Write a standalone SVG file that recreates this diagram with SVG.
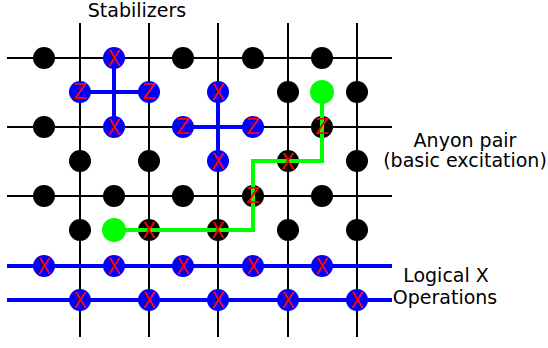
<svg xmlns="http://www.w3.org/2000/svg" width="548" height="348" viewBox="0 0 548 348">
<style>
.grid{stroke:#000;stroke-width:2;fill:none}
.stab{stroke:#0000ff;stroke-width:4;fill:none}
.logic{stroke:#0000ff;stroke-width:4;fill:none}
.path{stroke:#00ff00;stroke-width:4;fill:none}
.q{fill:#000}
.b{fill:#0000ff}
.g{fill:#00ff00}
.op{fill:#ff0000;font-family:"DejaVu Sans Condensed","DejaVu Sans",sans-serif;font-stretch:condensed;font-size:22px;text-anchor:middle;dominant-baseline:central}
.lbl{fill:#000;font-family:"DejaVu Sans",sans-serif;font-size:19px;text-anchor:middle}
</style>
<rect width="548" height="348" fill="#fff"/>
<g id="lattice">
<path class="grid" d="M7,58H392M7,127H392M7,196H392M80,23V337M149,23V337M218,23V337M288,23V337M357,23V337"/>
</g>
<g id="connectors">
<path class="stab" d="M114,58V127M80,92H149"/>
<path class="stab" d="M218,92V161M183,127H253"/>
<path class="logic" d="M7,266H392"/>
<path class="logic" d="M7,300H392"/>
</g>
<g id="qubits">
<circle class="q" cx="44" cy="58" r="11"/>
<circle class="q" cx="183" cy="58" r="11"/>
<circle class="q" cx="253" cy="58" r="11"/>
<circle class="q" cx="322" cy="58" r="11"/>
<circle class="q" cx="44" cy="127" r="11"/>
<circle class="q" cx="322" cy="127" r="11"/>
<circle class="q" cx="44" cy="196" r="11"/>
<circle class="q" cx="114" cy="196" r="11"/>
<circle class="q" cx="183" cy="196" r="11"/>
<circle class="q" cx="253" cy="196" r="11"/>
<circle class="q" cx="322" cy="196" r="11"/>
<circle class="q" cx="288" cy="92" r="11"/>
<circle class="q" cx="357" cy="92" r="11"/>
<circle class="q" cx="80" cy="161" r="11"/>
<circle class="q" cx="149" cy="161" r="11"/>
<circle class="q" cx="288" cy="161" r="11"/>
<circle class="q" cx="357" cy="161" r="11"/>
<circle class="q" cx="80" cy="230" r="11"/>
<circle class="q" cx="149" cy="230" r="11"/>
<circle class="q" cx="218" cy="230" r="11"/>
<circle class="q" cx="288" cy="230" r="11"/>
<circle class="q" cx="357" cy="230" r="11"/>
</g>
<g id="stabilizer1">
<circle class="b" cx="114" cy="58" r="11"/>
<circle class="b" cx="114" cy="127" r="11"/>
<circle class="b" cx="80" cy="92" r="11"/>
<circle class="b" cx="149" cy="92" r="11"/>
<text class="op" x="114" y="58">X</text>
<text class="op" x="114" y="127">X</text>
<text class="op" x="80" y="91">Z</text>
<text class="op" x="149" y="91">Z</text>
</g>
<g id="stabilizer2">
<circle class="b" cx="218" cy="92" r="11"/>
<circle class="b" cx="218" cy="161" r="11"/>
<circle class="b" cx="183" cy="127" r="11"/>
<circle class="b" cx="253" cy="127" r="11"/>
<text class="op" x="218" y="92">X</text>
<text class="op" x="218" y="161">X</text>
<text class="op" x="183" y="126">Z</text>
<text class="op" x="253" y="126">Z</text>
</g>
<g id="anyon-path">
<path class="path" d="M322,92V161H253V230H114"/>
<circle class="g" cx="322" cy="92" r="12"/>
<circle class="g" cx="114" cy="230" r="12"/>
<text class="op" x="322" y="126">Z</text>
<text class="op" x="288" y="161">X</text>
<text class="op" x="253" y="195">Z</text>
<text class="op" x="218" y="230">X</text>
<text class="op" x="149" y="230">X</text>
</g>
<g id="logical-x-1">
<circle class="b" cx="44" cy="266" r="11"/>
<circle class="b" cx="114" cy="266" r="11"/>
<circle class="b" cx="183" cy="266" r="11"/>
<circle class="b" cx="253" cy="266" r="11"/>
<circle class="b" cx="322" cy="266" r="11"/>
<text class="op" x="44" y="266">X</text>
<text class="op" x="114" y="266">X</text>
<text class="op" x="183" y="266">X</text>
<text class="op" x="253" y="266">X</text>
<text class="op" x="322" y="266">X</text>
</g>
<g id="logical-x-2">
<circle class="b" cx="80" cy="300" r="11"/>
<circle class="b" cx="149" cy="300" r="11"/>
<circle class="b" cx="218" cy="300" r="11"/>
<circle class="b" cx="288" cy="300" r="11"/>
<circle class="b" cx="357" cy="300" r="11"/>
<text class="op" x="80" y="300">X</text>
<text class="op" x="149" y="300">X</text>
<text class="op" x="218" y="300">X</text>
<text class="op" x="288" y="300">X</text>
<text class="op" x="357" y="300">X</text>
</g>
<g id="labels">
<text class="lbl" x="137" y="17">Stabilizers</text>
<text class="lbl" x="465" y="147">Anyon pair</text>
<text class="lbl" x="465" y="167">(basic excitation)</text>
<text class="lbl" x="446" y="282">Logical X</text>
<text class="lbl" x="445" y="304">Operations</text>
</g>
</svg>
